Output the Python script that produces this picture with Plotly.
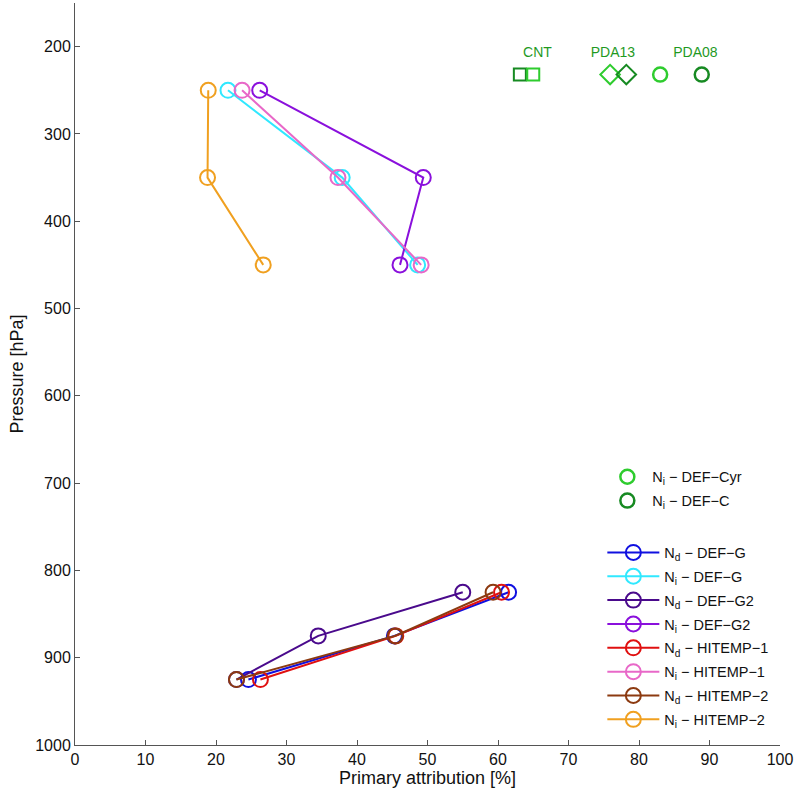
import plotly.graph_objects as go

# ---- data ----
p_upper = [250, 350, 450]
p_lower = [825, 875, 925]

Ni_DEF_G = [21.7, 37.9, 48.6]
Ni_DEF_G2 = [26.2, 49.4, 46.1]
Ni_HITEMP_1 = [23.7, 37.3, 49.1]
Ni_HITEMP_2 = [18.9, 18.8, 26.7]

Nd_DEF_G = [61.5, 45.3, 24.6]
Nd_DEF_G2 = [55.0, 34.5, 22.9]
Nd_HITEMP_1 = [60.5, 45.5, 26.3]
Nd_HITEMP_2 = [59.3, 45.4, 22.9]

obs_p = 232
CNT_x = [63.1, 65.0]        # DEF-C, DEF-Cyr
PDA13_x = [75.9, 78.2]      # DEF-Cyr, DEF-C
PDA08_x = [83.0, 88.9]      # DEF-Cyr, DEF-C

obs_labels = ["CNT", "PDA13", "PDA08"]
obs_label_x = [65.6, 76.3, 88.0]
obs_label_p = [208, 208, 208]

x_ticks = [0, 10, 20, 30, 40, 50, 60, 70, 80, 90, 100]
y_ticks = [200, 300, 400, 500, 600, 700, 800, 900, 1000]

# ---- styles ----
C_LIGHT = "#2ecc2e"
C_DARK = "#178a22"
C_TEXT = "#1f9a1f"
FONT = "Liberation Sans, Arial, sans-serif"

series = [
    ("N<sub>d</sub> − DEF−G", Nd_DEF_G, p_lower, "#1010e0"),
    ("N<sub>i</sub> − DEF−G", Ni_DEF_G, p_upper, "#30e8ff"),
    ("N<sub>d</sub> − DEF−G2", Nd_DEF_G2, p_lower, "#4a0a8c"),
    ("N<sub>i</sub> − DEF−G2", Ni_DEF_G2, p_upper, "#8a10dc"),
    ("N<sub>d</sub> − HITEMP−1", Nd_HITEMP_1, p_lower, "#e01010"),
    ("N<sub>i</sub> − HITEMP−1", Ni_HITEMP_1, p_upper, "#e868c8"),
    ("N<sub>d</sub> − HITEMP−2", Nd_HITEMP_2, p_lower, "#8c3a10"),
    ("N<sub>i</sub> − HITEMP−2", Ni_HITEMP_2, p_upper, "#f0a020"),
]

fig = go.Figure()

for i, (name, xs, ps, col) in enumerate(series):
    fig.add_trace(go.Scatter(
        x=xs, y=ps, mode="lines+markers", name=name,
        line=dict(color=col, width=2),
        marker=dict(symbol="circle-open", size=15, color=col, line=dict(width=2, color=col)),
        legend="legend2", legendgroup="g%d" % i,
    ))

# observation markers
fig.add_trace(go.Scatter(x=[CNT_x[0]], y=[obs_p], mode="markers", showlegend=False,
                         marker=dict(symbol="square-open", size=12, color=C_DARK, line=dict(width=2, color=C_DARK))))
fig.add_trace(go.Scatter(x=[CNT_x[1]], y=[obs_p], mode="markers", showlegend=False,
                         marker=dict(symbol="square-open", size=12, color=C_LIGHT, line=dict(width=2, color=C_LIGHT))))
fig.add_trace(go.Scatter(x=[PDA13_x[0]], y=[obs_p], mode="markers", showlegend=False,
                         marker=dict(symbol="diamond-open", size=15, color=C_LIGHT, line=dict(width=2, color=C_LIGHT))))
fig.add_trace(go.Scatter(x=[PDA13_x[1]], y=[obs_p], mode="markers", showlegend=False,
                         marker=dict(symbol="diamond-open", size=15, color=C_DARK, line=dict(width=2, color=C_DARK))))
fig.add_trace(go.Scatter(x=[PDA08_x[0]], y=[obs_p], mode="markers", name="N<sub>i</sub> − DEF−Cyr",
                         legend="legend", legendgroup="o1",
                         marker=dict(symbol="circle-open", size=14, color=C_LIGHT, line=dict(width=2.5, color=C_LIGHT))))
fig.add_trace(go.Scatter(x=[PDA08_x[1]], y=[obs_p], mode="markers", name="N<sub>i</sub> − DEF−C",
                         legend="legend", legendgroup="o2",
                         marker=dict(symbol="circle-open", size=14, color=C_DARK, line=dict(width=2.5, color=C_DARK))))

fig.add_trace(go.Scatter(x=obs_label_x, y=obs_label_p, mode="text", text=obs_labels, showlegend=False,
                         textfont=dict(family=FONT, size=14, color=C_TEXT), hoverinfo="skip"))

axis_common = dict(
    showline=True, linecolor="#555555", linewidth=1, mirror=False,
    ticks="inside", ticklen=5, tickcolor="#555555", showgrid=False, zeroline=False,
    tickfont=dict(family=FONT, size=16, color="#111111"), automargin=False,
)

fig.update_layout(
    width=796, height=796,
    margin=dict(l=75, r=16, t=3, b=51, autoexpand=False),
    paper_bgcolor="white", plot_bgcolor="white",
    font=dict(family=FONT, color="#111111"),
    xaxis=dict(range=[0, 100], tickvals=x_ticks,
               title=dict(text="Primary attribution [%]", font=dict(family=FONT, size=18), standoff=2),
               **axis_common),
    yaxis=dict(range=[1000, 150], tickvals=y_ticks,
               title=dict(text="Pressure [hPa]", font=dict(family=FONT, size=18), standoff=6),
               **axis_common),
    legend=dict(x=0.748, y=0.383, xanchor="left", yanchor="top", bgcolor="rgba(0,0,0,0)",
                font=dict(family=FONT, size=14.5), tracegroupgap=2, itemwidth=40),
    legend2=dict(x=0.748, y=0.281, xanchor="left", yanchor="top", bgcolor="rgba(0,0,0,0)",
                 font=dict(family=FONT, size=14.5), tracegroupgap=2, itemwidth=52),
    showlegend=True,
)

fig.write_html("out.html", config={"displayModeBar": False},
               post_script="document.body.style.margin='0';document.body.style.padding='0';")
